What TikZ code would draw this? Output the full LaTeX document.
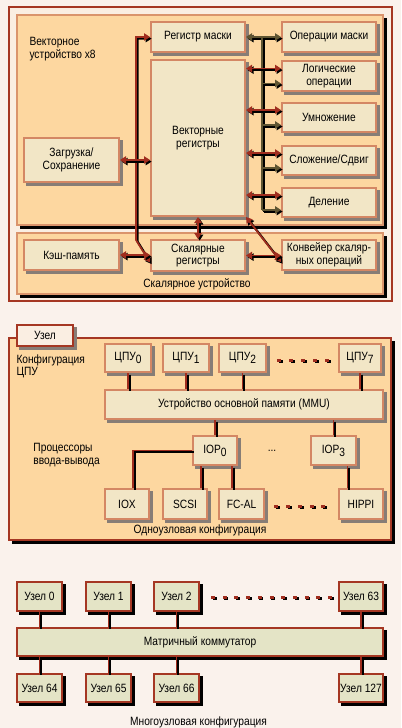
\documentclass[tikz,border=0pt]{standalone}
\usepackage{fontspec}
\setmainfont[FakeStretch=0.85]{Liberation Sans}
\usetikzlibrary{arrows.meta}

\definecolor{pagebg}{RGB}{250,242,236}
\definecolor{framefill}{RGB}{250,238,226}
\definecolor{framered}{RGB}{165,55,35}
\definecolor{peach}{RGB}{253,215,160}
\definecolor{secedge}{RGB}{218,148,108}
\definecolor{boxfill}{RGB}{242,230,198}
\definecolor{boxedge}{RGB}{212,135,100}
\definecolor{boxshade}{RGB}{135,125,118}
\definecolor{nodefill}{RGB}{228,228,198}
\definecolor{linkred}{RGB}{160,45,30}
\definecolor{busolive}{RGB}{95,85,50}

\newcommand{\lowidx}[1]{\raisebox{-2.2pt}{#1}}

\tikzset{every picture/.style={line width=0.75pt}}

\begin{document}
\begin{tikzpicture}[x=0.75pt,y=0.75pt,yscale=-1,xscale=1,
  font=\fontsize{9pt}{9.5pt}\selectfont,
  >={Triangle[length=4.5pt,width=5.5pt]},
  wh/.style 2 args={minimum width=#1*0.75pt-1.5pt, minimum height=#2*0.75pt-1.5pt},
  dropsh/.style={preaction={draw=#1, fill=#1, transform canvas={shift={(2.25pt,-2.25pt)}}}},
  unitbox/.style={draw=boxedge, fill=boxfill, line width=1.5pt, align=center, inner sep=1pt, dropsh=boxshade},
  nodebox/.style={draw=framered, fill=nodefill, line width=1.5pt, align=center, inner sep=1pt, dropsh=black},
  section/.style={draw=secedge, fill=peach, line width=1.5pt, dropsh=black},
  link/.style={draw=linkred, line width=1.3pt, preaction={draw=black, line width=1.6pt, transform canvas={shift={(1.2pt,-1.2pt)}}}},
  oliv/.style={link, draw=busolive},
  dot/.style={fill=linkred, preaction={fill=black, transform canvas={shift={(1.2pt,-0.9pt)}}}},
  txt/.style={inner sep=0pt, align=left}]
\useasboundingbox (0,0) rectangle (401,728);
\fill[pagebg] (0,0) rectangle (401,728);

%Shape: Rectangle [vector and scalar units]
\draw[draw=framered, fill=framefill, line width=1.5pt] (9,7) rectangle (392,301);
\draw[section] (17,15) rectangle (383,225);
\draw[section] (17,233) rectangle (383,294);

% Text Node
\node[txt, anchor=north west] (vunit) at (29,37) {Векторное\\устройство x8};
\node[txt] (sunit) at (197,284) {Скалярное устройство};

%Shape: Rectangle [vector unit blocks]
\node[unitbox, wh={96}{32}] (regmask) at (198,37) {Регистр маски};
\node[unitbox, wh={96}{158}] (vreg) at (198,138) {Векторные\\регистры};
\node[unitbox, wh={96}{32}] (maskops) at (329,37) {Операции маски};
\node[unitbox, wh={96}{32}] (logic) at (329,76) {Логические\\операции};
\node[unitbox, wh={96}{31}] (mult) at (329,117.5) {Умножение};
\node[unitbox, wh={96}{31}] (addshift) at (329,160.5) {Сложение/Сдвиг};
\node[unitbox, wh={96}{31}] (divide) at (329,202.5) {Деление};
\node[unitbox, wh={97}{46}] (loadstore) at (71.5,160) {Загрузка/\\Сохранение};
\node[unitbox, wh={97}{32}] (cache) at (71.5,255) {Кэш-память};
\node[unitbox, wh={96}{33}] (sreg) at (198,255.5) {Скалярные\\регистры};
\node[unitbox, wh={96}{32}] (pipe) at (329,255) {Конвейер скаляр-\\ных операций};

%Arrows [vector unit]
\coordinate (busbend) at (136,240);
\draw[link,<->] (regmask.west) -| (busbend) -- ([yshift=5.25pt]sreg.west);
\draw[link,<->] (loadstore.east) -- (loadstore.east -| vreg.west);
\draw[link,<->] (cache.east) -- (cache.east -| sreg.west);
\draw[link,<->] (sreg.north) -- (vreg.south);
\draw[oliv,<->] (regmask.east) -- (maskops.west);
\coordinate (obus) at (262,37);
\foreach \u in {logic,mult,addshift,divide}{
  \coordinate (o\u) at ([yshift=5.6pt]\u.west);
  \coordinate (r\u) at ([yshift=-5.6pt]\u.west);
}
\draw[oliv] (obus) -- (obus |- odivide);
\foreach \u in {logic,mult,addshift,divide}{
  \draw[oliv,->] (obus |- o\u) -- (o\u);
  \draw[link,<->] (r\u -| vreg.east) -- (r\u);
}
\draw[link,<->] (vreg.south east) -- ([yshift=5.25pt]pipe.west);
\draw[link,<->] (sreg.east) -- (sreg.east -| pipe.west);

%Shape: Rectangle [single node]
\draw[section, draw=framered] (9,338) rectangle (391,540);
\node[unitbox, draw=framered, fill=framefill, wh={58}{23}] (tab) at (45,335.5) {Узел};

% Text Node
\node[txt, anchor=north west] (cpucfg) at (16,354) {Конфигурация\\ЦПУ};
\node[txt, anchor=north west] (iocfg) at (33,443) {Процессоры\\ввода-вывода};
\node[txt] (onecfg) at (200,530) {Одноузловая конфигурация};
\node[txt] (iodots) at (272,451) {...};

%Shape: Rectangle [cpu, memory, io]
\node[unitbox, wh={48}{30}] (cpu0) at (128,358) {ЦПУ\lowidx{0}};
\node[unitbox, wh={48}{30}] (cpu1) at (186,358) {ЦПУ\lowidx{1}};
\node[unitbox, wh={49}{30}] (cpu2) at (242.5,358) {ЦПУ\lowidx{2}};
\node[unitbox, wh={44}{30}] (cpu7) at (360,358) {ЦПУ\lowidx{7}};
\node[unitbox, wh={280}{31}] (mmu) at (244,404.5) {Устройство основной памяти (MMU)};
\node[unitbox, wh={46}{31}] (iop0) at (215,450.5) {IOP\lowidx{0}};
\node[unitbox, wh={47}{31}] (iop3) at (333.5,450.5) {IOP\lowidx{3}};
\node[unitbox, wh={46}{32}] (iox) at (127,504) {IOX};
\node[unitbox, wh={46}{32}] (scsi) at (185,504) {SCSI};
\node[unitbox, wh={47}{32}] (fcal) at (241.5,504) {FC-AL};
\node[unitbox, wh={46}{32}] (hippi) at (361,504) {HIPPI};

%Lines [single node]
\foreach \c in {cpu0,cpu1,cpu2,cpu7}
  \draw[link] (\c.south) -- (\c.south |- mmu.north);
\draw[link] (mmu.south -| iop0.north) -- (iop0.north);
\draw[link] (mmu.south -| iop3.north) -- (iop3.north);
\draw[link] (iop0.west) -| ([xshift=4.5pt]iox.north);
\coordinate (tscsi) at ([xshift=-10.5pt]iop0.south);
\coordinate (tfcal) at ([xshift=12.75pt]iop0.south);
\coordinate (thippi) at ([xshift=10.5pt]iop3.south);
\draw[link] (tscsi) -- (tscsi |- scsi.north);
\draw[link] (tfcal) -- (tfcal |- fcal.north);
\draw[link] (thippi) -- (thippi |- hippi.north);
\foreach \x in {279,291,303,315,327}
  \path[dot] (\x-2,358.5) rectangle +(4,3);
\foreach \x in {276,288,300,312,323}
  \path[dot] (\x-2,504.5) rectangle +(4,3);

%Shape: Rectangle [multi node]
\node[nodebox, wh={47}{31}] (n0) at (39.5,596.5) {Узел 0};
\node[nodebox, wh={47}{31}] (n1) at (108.5,596.5) {Узел 1};
\node[nodebox, wh={47}{31}] (n2) at (176.5,596.5) {Узел 2};
\node[nodebox, wh={46}{31}] (n63) at (361,596.5) {Узел 63};
\node[nodebox, wh={368}{30}] (switch) at (200,642) {Матричный коммутатор};
\node[nodebox, wh={47}{30}] (n64) at (39.5,688) {Узел 64};
\node[nodebox, wh={47}{30}] (n65) at (108.5,688) {Узел 65};
\node[nodebox, wh={47}{30}] (n66) at (176.5,688) {Узел 66};
\node[nodebox, wh={46}{30}] (n127) at (361,688) {Узел 127};
\node[txt] (manycfg) at (198.5,722) {Многоузловая конфигурация};

%Lines [multi node]
\foreach \a/\b in {n0/n64,n1/n65,n2/n66,n63/n127}{
  \draw[link] (\a.south) -- (\a.south |- switch.north);
  \draw[link] (\b.north |- switch.south) -- (\b.north);
}
\foreach \i in {0,...,10}
  \path[dot] (211+\i*11.7,595.5) rectangle +(4,3);
\end{tikzpicture}
\end{document}
